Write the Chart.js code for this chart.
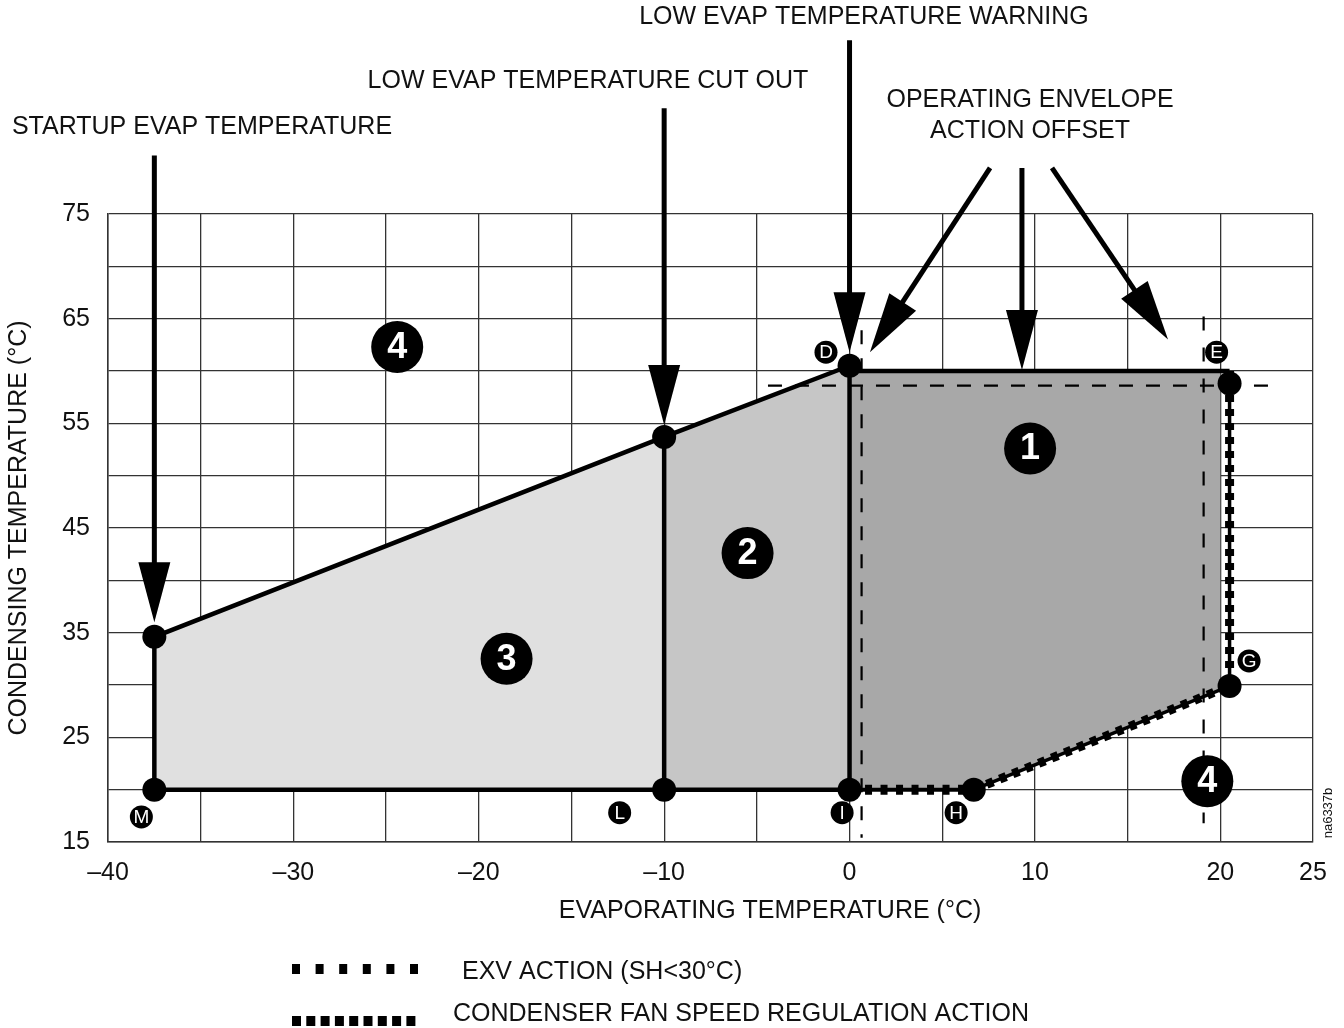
<!DOCTYPE html>
<html><head><meta charset="utf-8">
<script src="https://cdn.jsdelivr.net/npm/chart.js@4/dist/chart.umd.min.js"></script>
<style>html,body{margin:0;padding:0;background:#fff}canvas{display:block}</style>
</head><body>
<canvas id="c" width="1344" height="1028"></canvas>
<script>
// ---------------- DATA ----------------
const xTickLabels = [-40, -30, -20, -10, 0, 10, 20, 25];
const yTickLabels = [15, 25, 35, 45, 55, 65, 75];
// envelope vertices [evaporating °C, condensing °C]
const ptM = [-37.5, 20];
const ptStart = [-37.5, 34.6];
const ptCut = [-10, 53.7];
const ptD = [0, 60.5];
const ptE = [20.5, 58.8];
const ptG = [20.5, 29.9];
const ptH = [6.7, 20];
const ptI = [0, 20];
const ptL = [-10, 20];
const ptTop0 = [0, 60];
const ptTopRight = [20.5, 60];
const zone1Fill = [[0, 20], [0, 60], [20, 60], [20, 29.5], [6.7, 20], [0, 20]];
const zone2Fill = [[-10, 20], [-10, 53.7], [0, 60.5], [0, 20], [-10, 20]];
const zone3Fill = [[-37.5, 20], [-37.5, 34.6], [-10, 53.7], [-10, 20], [-37.5, 20]];
const offsetLeft = [[0.65, 63.9], [0.65, 15.4]];
const offsetRight = [[19.1, 65.2], [19.1, 16.8]];
const offsetTop = [[-4.4, 58.6], [23.1, 58.6]];
// zone number labels
const zoneLabels = ['4', '1', '2', '3', '4'];
const zoneLabelX = [-24.4, 9.74, -5.5, -18.5, 19.3];
const zoneLabelY = [62.3, 52.6, 42.6, 32.5, 20.8];
// point letter labels
const pointLetters = ['D', 'E', 'G', 'I', 'H', 'L', 'M'];
const letterX = [-1.27, 19.8, 21.55, -0.4, 5.75, -12.4, -38.2];
const letterY = [61.8, 61.8, 32.3, 17.8, 17.8, 17.8, 17.4];
// arrows [x1, y1, x2, y2] in data units
const arrowList = [
  [-37.5, 80.6, -37.5, 36.0],
  [-10, 85.1, -10, 54.85],
  [0, 91.6, 0, 61.8],
  [7.58, 79.4, 1.1, 61.8],
  [9.3, 79.4, 9.3, 60.1],
  [10.92, 79.4, 17.18, 63.0]
];
const titleTexts = ['LOW EVAP TEMPERATURE WARNING', 'LOW EVAP TEMPERATURE CUT OUT', 'OPERATING ENVELOPE', 'ACTION OFFSET', 'STARTUP EVAP TEMPERATURE'];
const legendTexts = ['EXV ACTION (SH<30°C)', 'CONDENSER FAN SPEED REGULATION ACTION'];

// ---------------- LAYOUT / STYLE ----------------
const FONT = "'Liberation Sans', Arial, Helvetica, sans-serif";
const titlePos = [[864, 17], [588, 81], [1030, 100], [1030, 131], [202, 127]];
Chart.defaults.font.family = FONT;
Chart.defaults.color = '#111';

const toXY = a => a.map(p => ({x: p[0], y: p[1]}));
const fmt = v => v < 0 ? '\u2013' + Math.abs(v) : String(v);
const line = (pts, o) => Object.assign({
  data: toXY(pts), showLine: true, pointRadius: 0, borderColor: '#000', borderWidth: 4.5,
  fill: false, tension: 0, borderCapStyle: 'butt', borderJoinStyle: 'miter', order: 2
}, o);
const area = (pts, color) => ({
  data: toXY(pts), showLine: true, pointRadius: 0, borderColor: 'rgba(0,0,0,0)', borderWidth: 1,
  fill: 'shape', backgroundColor: color, tension: 0, order: 10
});

const annot = {
  id: 'annot',
  afterDraw(chart) {
    const {ctx} = chart;
    const xs = chart.scales.x, ys = chart.scales.y;
    const px = v => xs.getPixelForValue(v), py = v => ys.getPixelForValue(v);
    ctx.save();
    // arrows
    ctx.fillStyle = '#000'; ctx.strokeStyle = '#000';
    arrowList.forEach(a => {
      const x1 = px(a[0]), y1 = py(a[1]), x2 = px(a[2]), y2 = py(a[3]);
      const dx = x2 - x1, dy = y2 - y1, L = Math.hypot(dx, dy), ux = dx / L, uy = dy / L;
      const hl = 60, hw = 16;
      const bx = x2 - ux * hl, by = y2 - uy * hl;
      ctx.setLineDash([]);
      ctx.lineWidth = 5; ctx.lineCap = 'butt';
      ctx.beginPath(); ctx.moveTo(x1, y1); ctx.lineTo(bx + ux * 3, by + uy * 3); ctx.stroke();
      ctx.beginPath(); ctx.moveTo(x2, y2);
      ctx.lineTo(bx - uy * hw, by + ux * hw);
      ctx.lineTo(bx + uy * hw, by - ux * hw);
      ctx.closePath(); ctx.fill();
    });
    // zone number circles
    ctx.textAlign = 'center'; ctx.textBaseline = 'middle';
    zoneLabels.forEach((t, i) => {
      const x = px(zoneLabelX[i]), y = py(zoneLabelY[i]);
      ctx.fillStyle = '#000';
      ctx.beginPath(); ctx.arc(x, y, 26, 0, Math.PI * 2); ctx.fill();
      ctx.fillStyle = '#fff'; ctx.font = 'bold 36px ' + FONT;
      ctx.fillText(t, x, y + 1);
    });
    // point letter circles
    pointLetters.forEach((t, i) => {
      const x = px(letterX[i]), y = py(letterY[i]);
      ctx.fillStyle = '#000';
      ctx.beginPath(); ctx.arc(x, y, 11.5, 0, Math.PI * 2); ctx.fill();
      ctx.fillStyle = '#fff'; ctx.font = '19px ' + FONT;
      ctx.fillText(t, x, y + 1);
    });
    // titles
    ctx.fillStyle = '#111'; ctx.font = '25px ' + FONT;
    titleTexts.forEach((t, i) => ctx.fillText(t, titlePos[i][0], titlePos[i][1]));
    // x axis title
    ctx.fillText('EVAPORATING TEMPERATURE (\u00B0C)', 770, 911);
    // legend
    ctx.strokeStyle = '#000'; ctx.lineWidth = 10; ctx.lineCap = 'butt';
    ctx.setLineDash([8, 15.6]);
    ctx.beginPath(); ctx.moveTo(292, 969); ctx.lineTo(418, 969); ctx.stroke();
    ctx.setLineDash([9, 5.3]);
    ctx.beginPath(); ctx.moveTo(292, 1021); ctx.lineTo(416, 1021); ctx.stroke();
    ctx.setLineDash([]);
    ctx.textAlign = 'left';
    ctx.fillText(legendTexts[0], 462, 972);
    ctx.fillText(legendTexts[1], 453, 1014);
    // figure id
    ctx.save();
    ctx.translate(1328, 813); ctx.rotate(-Math.PI / 2);
    ctx.textAlign = 'center'; ctx.font = '13px ' + FONT;
    ctx.fillText('na6337b', 0, 0);
    ctx.restore();
    ctx.restore();
  }
};

new Chart(document.getElementById('c'), {
  type: 'scatter',
  data: {
    datasets: [
      {data: toXY([ptM, ptStart, ptCut, ptD, ptE, ptG, ptH, ptI, ptL]), pointRadius: 12, pointHoverRadius: 12,
       backgroundColor: '#000', borderWidth: 0, showLine: false, order: 0},
      line([ptI, ptH], {borderWidth: 10, borderDash: [7, 8.5], order: 1}),
      line([ptH, ptG, ptTopRight], {borderWidth: 9, borderDash: [7, 7], order: 1}),
      line([ptI, ptH], {borderWidth: 4}),
      line([ptH, ptG, ptTopRight], {borderWidth: 3.5}),
      line([ptM, ptStart, ptCut, ptD]),
      line([ptL, ptCut]),
      line([ptI, ptD]),
      line([ptM, ptI]),
      line([ptTop0, ptTopRight]),
      line(offsetLeft, {borderWidth: 2.2, borderDash: [14, 14], order: 3}),
      line(offsetRight, {borderWidth: 2.2, borderDash: [14, 17], order: 3}),
      line(offsetTop, {borderWidth: 2.2, borderDash: [14, 13], order: 3}),
      area(zone1Fill, '#a8a8a8'),
      area(zone2Fill, '#c6c6c6'),
      area(zone3Fill, '#e0e0e0')
    ]
  },
  options: {
    responsive: false, animation: false, events: [],
    layout: {padding: {left: 0, right: 31, top: 214, bottom: 0}},
    plugins: {legend: {display: false}, tooltip: {enabled: false}},
    scales: {
      x: {
        type: 'linear', position: 'bottom', min: -40, max: 25, z: 1,
        ticks: {stepSize: 5, autoSkip: false, maxRotation: 0, padding: 16, color: '#111', font: {size: 25},
          callback: v => xTickLabels.includes(v) ? fmt(v) : ''},
        grid: {color: '#333', lineWidth: 1.3, drawTicks: false},
        border: {color: '#333', width: 1.5},
        afterFit: s => { s.height = 186; }
      },
      y: {
        type: 'linear', position: 'left', min: 15, max: 75, z: 1,
        ticks: {stepSize: 5, autoSkip: false, padding: 18, color: '#111', font: {size: 25},
          callback: v => yTickLabels.includes(v) ? fmt(v) : ''},
        grid: {color: '#333', lineWidth: 1.3, drawTicks: false},
        border: {color: '#333', width: 1.5},
        title: {display: true, text: 'CONDENSING TEMPERATURE (\u00B0C)', color: '#111', font: {size: 25}, padding: {top: 4, bottom: 0}},
        afterFit: s => { s.width = 108; }
      }
    }
  },
  plugins: [annot]
});
</script>
</body></html>
